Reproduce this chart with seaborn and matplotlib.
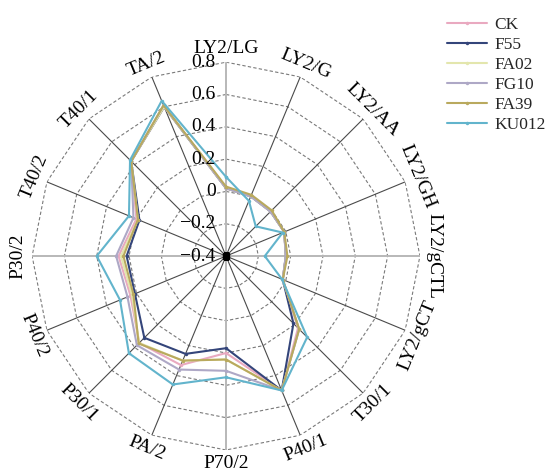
import numpy as np
import pandas as pd
import matplotlib
matplotlib.use("Agg")
import matplotlib.pyplot as plt
import seaborn as sns

categories = ['LY2/LG', 'LY2/G', 'LY2/AA', 'LY2/GH', 'LY2/gCTL', 'LY2/gCT', 'T30/1', 'P40/1',
              'P70/2', 'PA/2', 'P30/1', 'P40/2', 'P30/2', 'T40/2', 'T40/1', 'TA/2']
series_names = ['CK', 'F55', 'FA02', 'FG10', 'FA39', 'KU012']
ck    = [0.02, 0.00, -0.01, -0.01, -0.03, -0.02, 0.23, 0.50, 0.20, 0.33, 0.36, 0.24, 0.265, 0.20, 0.43, 0.60]
f55   = [0.02, 0.00, -0.01, -0.01, -0.03, -0.02, 0.19, 0.50, 0.17, 0.255, 0.315, 0.21, 0.215, 0.18, 0.43, 0.60]
fa02  = [0.02, 0.00, -0.01, -0.01, -0.03, -0.02, 0.24, 0.50, 0.24, 0.30, 0.36, 0.23, 0.25, 0.19, 0.43, 0.60]
fg10  = [0.02, 0.00, -0.01, -0.01, -0.03, -0.02, 0.24, 0.50, 0.31, 0.36, 0.38, 0.26, 0.28, 0.22, 0.43, 0.61]
fa39  = [0.03, 0.01, 0.00, -0.01, -0.02, -0.02, 0.24, 0.50, 0.24, 0.30, 0.365, 0.22, 0.235, 0.19, 0.43, 0.61]
ku012 = [0.09, -0.03, -0.14, -0.02, -0.16, -0.025, 0.31, 0.50, 0.35, 0.46, 0.45, 0.31, 0.40, 0.25, 0.44, 0.64]
r_ticks = [-0.4, -0.2, 0.0, 0.2, 0.4, 0.6, 0.8]
r_tick_labels = ['\u22120.4', '\u22120.2', '0', '0.2', '0.4', '0.6', '0.8']

colors = {'CK': '#e9a9c0', 'F55': '#34457a', 'FA02': '#e3e6ad', 'FG10': '#aea8c6',
          'FA39': '#b9a95e', 'KU012': '#62b4cc'}

sns.set_style("white")
plt.rcParams['font.family'] = ['Liberation Serif', 'DejaVu Serif']

fig = plt.figure(figsize=(5.5, 4.69), dpi=100)
ax = fig.add_axes([0.0582, 0.0405, 0.7055, 0.827], projection='polar')
ax.set_theta_zero_location('N')
ax.set_theta_direction(-1)
rmin, rmax = r_ticks[0], r_ticks[-1]
ax.set_ylim(rmin, rmax)

n = len(categories)
theta = np.arange(n) * 2 * np.pi / n
theta_closed = np.append(theta, 2 * np.pi)

# polygon grid
ax.grid(False)
ax.spines['polar'].set_visible(False)
ax.set_xticks([])
ax.set_yticks([])
for v in r_ticks[1:]:
    ax.plot(theta_closed, [v] * (n + 1), color='#7a7a7a', lw=0.8, ls=(0, (3, 2)), zorder=1)
for i, t in enumerate(theta):
    if i % 4 == 0:
        ax.plot([t, t], [rmin, rmax], color='#b8b8b8', lw=1.4, zorder=1)
    else:
        ax.plot([t, t], [rmin, rmax], color='#4a4a4a', lw=0.8, zorder=1)

data = {'CK': ck, 'F55': f55, 'FA02': fa02, 'FG10': fg10, 'FA39': fa39, 'KU012': ku012}
rows = []
for name in series_names:
    vals = data[name] + [data[name][0]]
    for t, v in zip(theta_closed, vals):
        rows.append({'theta': t, 'value': v, 'series': name})
df = pd.DataFrame(rows)

for name in series_names:
    sub = df[df['series'] == name]
    sns.lineplot(data=sub, x='theta', y='value', ax=ax, sort=False, estimator=None,
                 color=colors[name], lw=1.5, marker='o', markersize=2.5,
                 markeredgewidth=0, label=name, zorder=3)

ax.plot([0], [rmin], marker='s', color='black', markersize=5, zorder=5)
ax.set_xlabel('')
ax.set_ylabel('')

for v, lab in zip(r_ticks, r_tick_labels):
    ax.annotate(lab, xy=(0, v), xytext=(-7.5, 0), textcoords='offset points',
                ha='right', va='center', fontsize=14, color='black', zorder=6)

for t, cat in zip(theta, categories):
    deg = np.degrees(t)
    rot = -deg
    rot = (rot + 180) % 360 - 180
    if rot < -90:
        rot += 180
    elif rot > 90:
        rot -= 180
    ax.text(t, 0.885, cat, rotation=rot, rotation_mode='anchor', ha='center', va='center',
            fontsize=14, color='black')

handles, labels = ax.get_legend_handles_labels()
if ax.get_legend():
    ax.get_legend().remove()
fig.legend(handles, labels, loc='upper left', bbox_to_anchor=(0.8, 0.978), frameon=False,
           fontsize=12.5, handlelength=2.3, handletextpad=0.45, labelspacing=0.22, borderaxespad=0)

fig.savefig('out.png', dpi=100)
